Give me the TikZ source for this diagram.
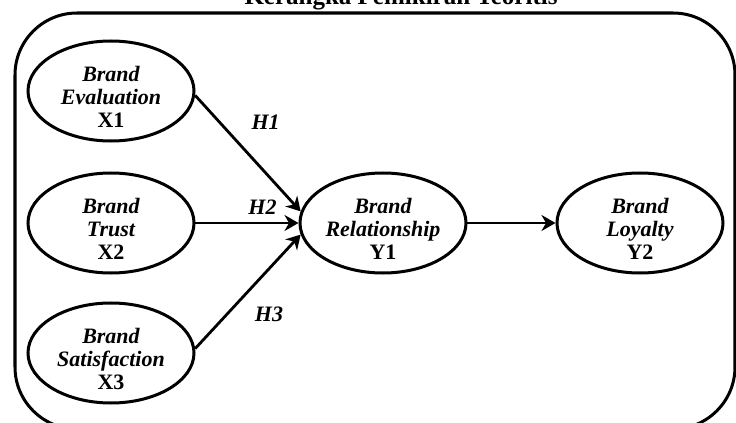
\documentclass[tikz,border=0pt]{standalone}
\usepackage{fontspec}
\setmainfont{Liberation Serif}
\usetikzlibrary{arrows.meta, shapes.geometric, positioning}

\begin{document}
\begin{tikzpicture}[x=0.5pt, y=-0.5pt, ->, >={Stealth[length=7pt, width=8pt]}, line width=1.4pt,
	var/.style={ellipse, draw, line width=1.5pt, minimum width=83pt, minimum height=50pt, inner sep=0pt,
		text width=58pt, align=center, text height=10pt, text depth=19.5pt,
		font=\fontsize{11}{11.5}\selectfont\bfseries\itshape},
	hyp/.style={font=\fontsize{11}{12}\selectfont\bfseries\itshape}]

		\useasboundingbox (0,0) rectangle (736,423);
		\node[font=\fontsize{12.5}{14}\selectfont\bfseries, anchor=base] (title) at (401,4) {Kerangka Pemikiran Teoritis};
		\draw[-, line width=1.5pt, rounded corners=31pt] (15,13) rectangle (735,429);

		\node[var] (x2) at (111,223) {Brand\\Trust\\{\upshape X2}};
		\node[var] (x1) [above of=x2, node distance=66pt] {Brand\\Evaluation\\{\upshape X1}};
		\node[var] (x3) [below of=x2, node distance=65pt] {Brand\\Satisfaction\\{\upshape X3}};
		\node[var] (y1) [right of=x2, node distance=136pt] {Brand\\Relationship\\{\upshape Y1}};
		\node[var] (y2) [right of=y1, node distance=128.5pt] {Brand\\Loyalty\\{\upshape Y2}};

		\path
		(x1.357) edge node[hyp, pos=0.23, right=12pt] (h1) {H1} (y1.172)
		(x2) edge node[hyp, pos=0.65, above] (h2) {H2} (y1)
		(x3.3) edge node[hyp, pos=0.3, right=10pt] (h3) {H3} (y1.188)
		(y1) edge (y2);

\end{tikzpicture}
\end{document}
